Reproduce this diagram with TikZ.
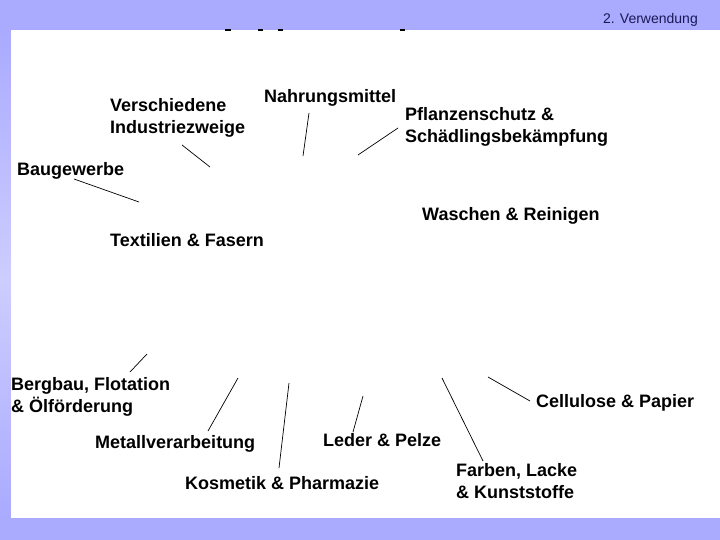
\documentclass[tikz,border=0pt]{standalone}
\usepackage{fontspec}
\setmainfont{Liberation Sans}
\definecolor{bandblue}{RGB}{170,170,255}
\definecolor{lightband}{RGB}{205,205,255}
\definecolor{navy}{RGB}{25,25,85}
\tikzset{
  lbl/.style={font=\fontsize{18}{22}\selectfont\bfseries, anchor=west, inner sep=0pt, align=left, text=black},
  spoke/.style={draw=black, line width=0.7pt},
  mark/.style={fill=black, draw=none}
}
\begin{document}
\begin{tikzpicture}[x=1pt,y=-1pt]
\useasboundingbox (0,0) rectangle (720,540);
\fill[bandblue] (0,0) rectangle (720,540);
\shade[top color=bandblue, bottom color=lightband, draw=none] (0,30) rectangle (11,280);
\shade[top color=lightband, bottom color=bandblue, draw=none] (0,280) rectangle (11,518);
\fill[white] (11,30) rectangle (720,518);
% small marks at top edge
\fill[black] (225,29.5) rectangle (231,31.5);
\fill[black] (258,29.5) rectangle (263,31.5);
\fill[black] (278,29.5) rectangle (283,31.5);
\fill[black] (400,29.5) rectangle (405,31.5);
% header
\node[font=\fontsize{14}{16}\selectfont, text=navy, anchor=east, inner sep=0pt] (hdr) at (698,20) {2. Verwendung};
% labels
\node[lbl] (ind) at (110,118) {Verschiedene\\Industriezweige};
\node[lbl] (nah) at (264,98) {Nahrungsmittel};
\node[lbl] (pfl) at (405,127) {Pflanzenschutz \&\\Schädlingsbekämpfung};
\node[lbl] (bau) at (17,171) {Baugewerbe};
\node[lbl] (wasch) at (422,216) {Waschen \& Reinigen};
\node[lbl] (text) at (110,240) {Textilien \& Fasern};
\node[lbl] (berg) at (11,397) {Bergbau, Flotation\\\& Ölförderung};
\node[lbl] (cell) at (536,403) {Cellulose \& Papier};
\node[lbl] (metal) at (95,444) {Metallverarbeitung};
\node[lbl] (leder) at (323,440) {Leder \& Pelze};
\node[lbl] (kosm) at (185,483) {Kosmetik \& Pharmazie};
\node[lbl] (farb) at (456,481) {Farben, Lacke\\\& Kunststoffe};
% spokes
\coordinate (i1) at (182,145); \coordinate (i2) at (210,167);
\coordinate (n1) at (309,113); \coordinate (n2) at (303,156);
\coordinate (p1) at (398,128); \coordinate (p2) at (358,155);
\coordinate (b1) at (74,179);  \coordinate (b2) at (139,202);
\coordinate (g1) at (147,354); \coordinate (g2) at (130,372);
\coordinate (m1) at (238,378); \coordinate (m2) at (208,431);
\coordinate (k1) at (289,383); \coordinate (k2) at (279,468);
\coordinate (l1) at (363,396); \coordinate (l2) at (353,432);
\coordinate (f1) at (442,378); \coordinate (f2) at (483,461);
\coordinate (c1) at (488,377); \coordinate (c2) at (530,401);
\draw[spoke] (i1) -- (i2);
\draw[spoke] (n1) -- (n2);
\draw[spoke] (p1) -- (p2);
\draw[spoke] (b1) -- (b2);
\draw[spoke] (g1) -- (g2);
\draw[spoke] (m1) -- (m2);
\draw[spoke] (k1) -- (k2);
\draw[spoke] (l1) -- (l2);
\draw[spoke] (f1) -- (f2);
\draw[spoke] (c1) -- (c2);
\end{tikzpicture}
\end{document}
